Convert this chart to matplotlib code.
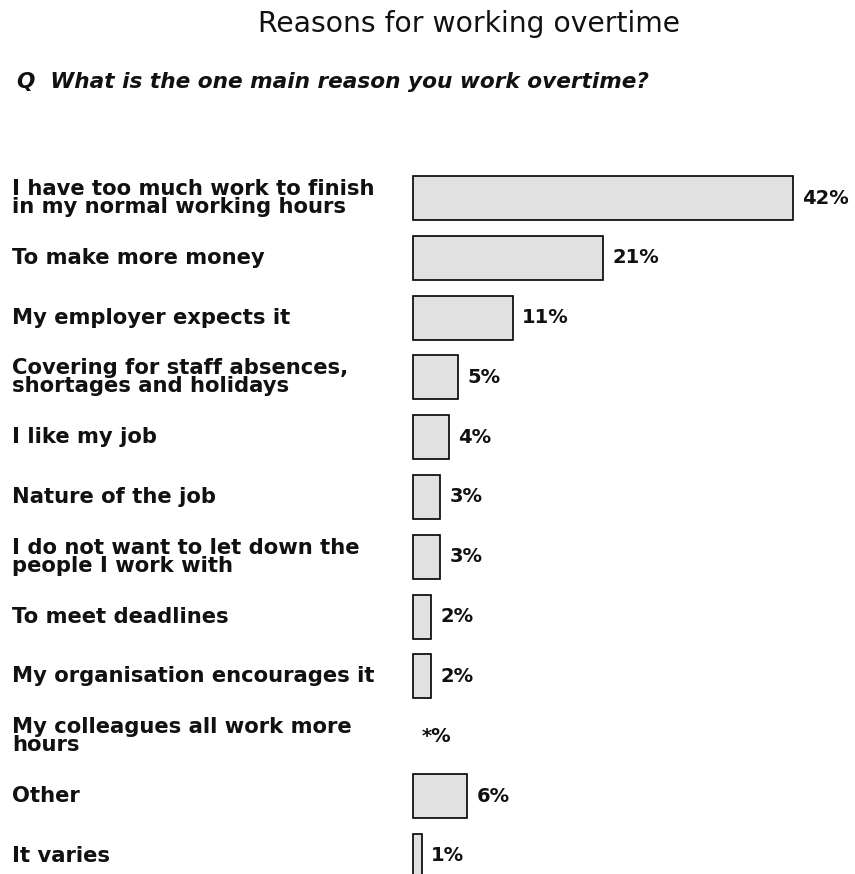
import matplotlib
matplotlib.use("Agg")
from matplotlib import pyplot as plt
from matplotlib import transforms

# Survey data
reasons = [
    "I have too much work to finish\nin my normal working hours",
    "To make more money",
    "My employer expects it",
    "Covering for staff absences,\nshortages and holidays",
    "I like my job",
    "Nature of the job",
    "I do not want to let down the\npeople I work with",
    "To meet deadlines",
    "My organisation encourages it",
    "My colleagues all work more\nhours",
    "Other",
    "It varies",
]
percent = [42, 21, 11, 5, 4, 3, 3, 2, 2, 0, 6, 1]
value_labels = ["42%", "21%", "11%", "5%", "4%", "3%", "3%", "2%", "2%", "*%", "6%", "1%"]

title = "Reasons for working overtime"
question = "Q  What is the one main reason you work overtime?"

W, H = 855, 874
fig = plt.figure(figsize=(W / 100, H / 100), dpi=100)

# axes placed in pixel terms: x=0 at px 413, 9.05 px per percent; rows 59.8 px apart from y=198
x0_px = 413
px_per = 9.05
ax = fig.add_axes([x0_px / W, 0.0, (W - x0_px) / W, (874 - 140) / H])
ax.set_xlim(0, (W - x0_px) / px_per)
ax.set_ylim((874 - 198) / 59.8, (140 - 198) / 59.8)
ax.axis("off")

ypos = list(range(len(reasons)))
for y, v in zip(ypos, percent):
    if v > 0:
        ax.barh(y, v, height=0.735, color="#e1e1e1", edgecolor="black",
                linewidth=1.2, align="center", clip_on=False)

for y, v, lab in zip(ypos, percent, value_labels):
    ax.text(v + 1.0, y, lab, ha="left", va="center", fontsize=14,
            fontweight="bold", family="DejaVu Sans", color="#111111")

trans = transforms.blended_transform_factory(fig.transFigure, ax.transData)
for y, lab in zip(ypos, reasons):
    ax.text(12 / W, y, lab, transform=trans, ha="left", va="center",
            fontsize=15.2, fontweight="bold", family="DejaVu Sans",
            linespacing=0.88, color="#111111")

fig.text(469 / W, 1 - 32 / H, title, ha="center", va="baseline",
         fontsize=20.3, family="DejaVu Sans", color="#111111")
fig.text(17 / W, 1 - 88 / H, question, ha="left", va="baseline",
         fontsize=15.6, fontweight="bold", style="italic",
         family="DejaVu Sans", color="#111111")

fig.savefig("out.png", dpi=100)
